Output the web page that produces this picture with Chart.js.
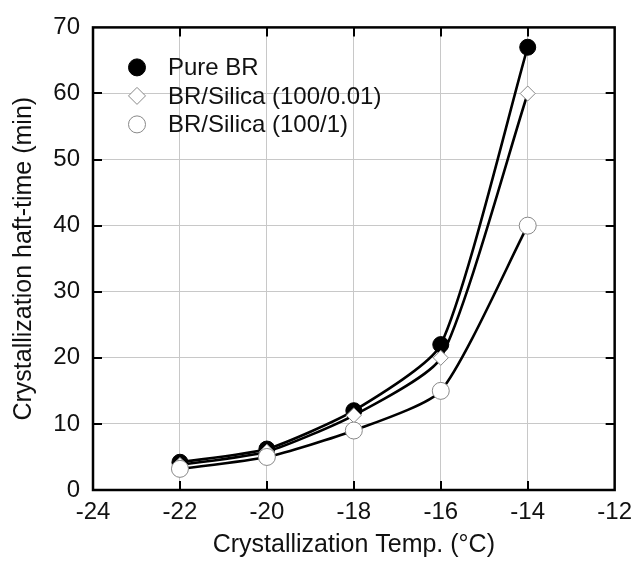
<!DOCTYPE html>
<html><head><meta charset="utf-8">
<script src="https://cdn.jsdelivr.net/npm/chart.js@4.4.0/dist/chart.umd.min.js"></script>
<style>html,body{margin:0;padding:0;background:#fff;} #wrap{width:640px;height:565px;}</style>
</head><body><div id="wrap"><canvas id="c" width="640" height="565"></canvas></div>
<script>
// ---- data ----
const temps = [-22, -20, -18, -16, -14];
const pureBR = [4.2, 6.2, 12, 22, 67];
const silica001 = [3.8, 5.8, 11.3, 20, 60];
const silica1 = [3.2, 5.0, 9.0, 15, 40];
const seriesLabels = ['Pure BR', 'BR/Silica (100/0.01)', 'BR/Silica (100/1)'];
const xTickValues = [-24, -22, -20, -18, -16, -14, -12];
const yTickValues = [0, 10, 20, 30, 40, 50, 60, 70];
const xTitle = 'Crystallization Temp. (\u00B0C)';
const yTitle = 'Crystallization haft-time (min)';

const FONT = '"Liberation Sans", Arial, sans-serif';
const toPts = (ys) => temps.map((t, i) => ({x: t, y: ys[i]}));

function drawMarker(ctx, style, x, y, r, fill, stroke, lw) {
  ctx.save();
  ctx.beginPath();
  if (style === 'rectRot') {
    ctx.moveTo(x, y - r); ctx.lineTo(x + r, y); ctx.lineTo(x, y + r); ctx.lineTo(x - r, y); ctx.closePath();
  } else {
    ctx.arc(x, y, r, 0, Math.PI * 2);
  }
  ctx.fillStyle = fill; ctx.fill();
  ctx.lineWidth = lw; ctx.strokeStyle = stroke; ctx.stroke();
  ctx.restore();
}

const frame = {
  id: 'frame',
  afterDraw(chart) {
    const ctx = chart.ctx, a = chart.chartArea;
    const xs = chart.scales.x, ys = chart.scales.y;
    ctx.save();
    ctx.strokeStyle = '#000'; ctx.lineWidth = 2;
    const L = 9;
    ctx.beginPath();
    xTickValues.forEach(v => {
      const px = Math.round(xs.getPixelForValue(v));
      if (px <= a.left + 1 || px >= a.right - 1) return;
      ctx.moveTo(px, a.bottom); ctx.lineTo(px, a.bottom - L);
      ctx.moveTo(px, a.top); ctx.lineTo(px, a.top + L);
    });
    yTickValues.forEach(v => {
      const py = Math.round(ys.getPixelForValue(v));
      if (py <= a.top + 1 || py >= a.bottom - 1) return;
      ctx.moveTo(a.left, py); ctx.lineTo(a.left + L, py);
      ctx.moveTo(a.right, py); ctx.lineTo(a.right - L, py);
    });
    ctx.stroke();
    ctx.lineWidth = 2.5;
    ctx.strokeRect(a.left, a.top, a.right - a.left, a.bottom - a.top);
    // legend inside the plot
    chart.data.datasets.forEach((ds, i) => {
      const cx = a.left + 44, cy = a.top + 40 + i * 28.5;
      drawMarker(ctx, ds.pointStyle, cx, cy, 8.5, ds.pointBackgroundColor, ds.pointBorderColor, 1);
      ctx.fillStyle = '#111';
      ctx.font = '24px ' + FONT;
      ctx.textBaseline = 'middle'; ctx.textAlign = 'left';
      ctx.fillText(ds.label, a.left + 75, cy + 1);
    });
    ctx.restore();
  }
};

const lineCommon = {
  showLine: true, borderColor: '#000', borderWidth: 2.6,
  tension: 0.2, fill: false
};

new Chart(document.getElementById('c'), {
  type: 'scatter',
  data: {
    datasets: [
      Object.assign({}, lineCommon, {label: seriesLabels[0], data: toPts(pureBR),
        pointStyle: 'circle', pointRadius: 8, pointBackgroundColor: '#000', pointBorderColor: '#000', pointBorderWidth: 1, order: 3}),
      Object.assign({}, lineCommon, {label: seriesLabels[1], data: toPts(silica001),
        pointStyle: 'rectRot', pointRadius: 7.5, pointBackgroundColor: '#fff', pointBorderColor: '#888', pointBorderWidth: 1, order: 2}),
      Object.assign({}, lineCommon, {label: seriesLabels[2], data: toPts(silica1),
        pointStyle: 'circle', pointRadius: 8.5, pointBackgroundColor: '#fff', pointBorderColor: '#888', pointBorderWidth: 1, order: 1})
    ]
  },
  options: {
    responsive: false, animation: false, devicePixelRatio: 1,
    layout: {padding: {left: 0, right: 20, top: 24, bottom: 0}},
    plugins: {legend: {display: false}, tooltip: {enabled: false}},
    scales: {
      x: {
        type: 'linear', min: -24, max: -12,
        afterBuildTicks: (s) => { s.ticks = xTickValues.map(v => ({value: v})); },
        afterFit: (s) => { s.height = 75; },
        grid: {color: '#c8c8c8', lineWidth: 1, drawTicks: false},
        border: {display: false},
        ticks: {color: '#111', font: {family: FONT, size: 24}, padding: 8, maxRotation: 0, autoSkip: false},
        title: {display: true, text: xTitle, color: '#111', font: {family: FONT, size: 25}, padding: {top: 0, bottom: 5}}
      },
      y: {
        type: 'linear', min: 0, max: 70,
        afterBuildTicks: (s) => { s.ticks = yTickValues.map(v => ({value: v})); },
        afterFit: (s) => { s.width = 93; },
        grid: {color: '#c8c8c8', lineWidth: 1, drawTicks: false},
        border: {display: false},
        ticks: {color: '#111', font: {family: FONT, size: 24}, padding: 13},
        title: {display: true, text: yTitle, color: '#111', font: {family: FONT, size: 25}, padding: {top: 9, bottom: 0}}
      }
    }
  },
  plugins: [frame]
});
</script></body></html>
